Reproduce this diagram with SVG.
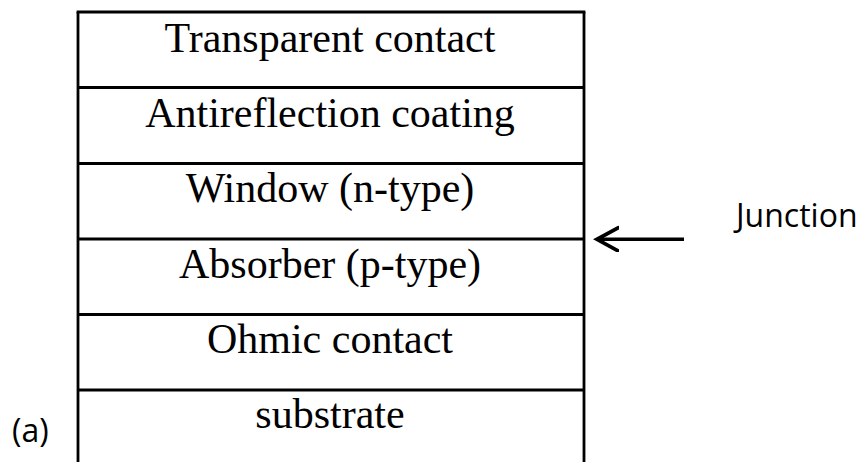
<svg xmlns="http://www.w3.org/2000/svg" width="868" height="462" viewBox="0 0 868 462">
<style>
.ln{stroke:#000;stroke-width:2.8;fill:none}
.lt{font-family:"Liberation Serif","Times New Roman",serif;font-size:42px;fill:#000;text-anchor:middle}
.sn{font-family:"Open Sans","DejaVu Sans",sans-serif;font-size:32px;fill:#000}
</style>
<defs>
<marker id="ah" markerUnits="userSpaceOnUse" markerWidth="30" markerHeight="30" refX="22" refY="13" orient="auto">
<path d="M1,1.5 L22,13 L1,24.5" fill="none" stroke="#000" stroke-width="3.8" stroke-linecap="round" stroke-linejoin="miter"/>
</marker>
</defs>
<g id="stack">
<line class="ln" x1="78" y1="12" x2="78" y2="462"/>
<line class="ln" x1="584" y1="12" x2="584" y2="462"/>
</g>
<g id="transparent-contact">
<line class="ln" x1="76.6" y1="12" x2="585.4" y2="12"/>
<text class="lt" x="330" y="52">Transparent contact</text>
</g>
<g id="antireflection">
<line class="ln" x1="77" y1="87.5" x2="585" y2="87.5"/>
<text class="lt" x="330" y="127">Antireflection coating</text>
</g>
<g id="window">
<line class="ln" x1="77" y1="163.5" x2="585" y2="163.5"/>
<text class="lt" x="330" y="202">Window (n-type)</text>
</g>
<g id="absorber">
<line class="ln" x1="77" y1="239" x2="585" y2="239"/>
<text class="lt" x="330" y="278">Absorber (p-type)</text>
</g>
<g id="ohmic">
<line class="ln" x1="77" y1="314.5" x2="585" y2="314.5"/>
<text class="lt" x="330" y="353">Ohmic contact</text>
</g>
<g id="substrate">
<line class="ln" x1="77" y1="390" x2="585" y2="390"/>
<text class="lt" x="330" y="428">substrate</text>
</g>
<g id="junction-label">
<text class="sn" x="736" y="227">Junction</text>
</g>
<g id="label-a">
<text class="sn" x="12" y="442">(a)</text>
</g>
<g id="connectors">
<line x1="684" y1="239.3" x2="597" y2="239.3" stroke="#000" stroke-width="3.6" marker-end="url(#ah)"/>
</g>
</svg>
